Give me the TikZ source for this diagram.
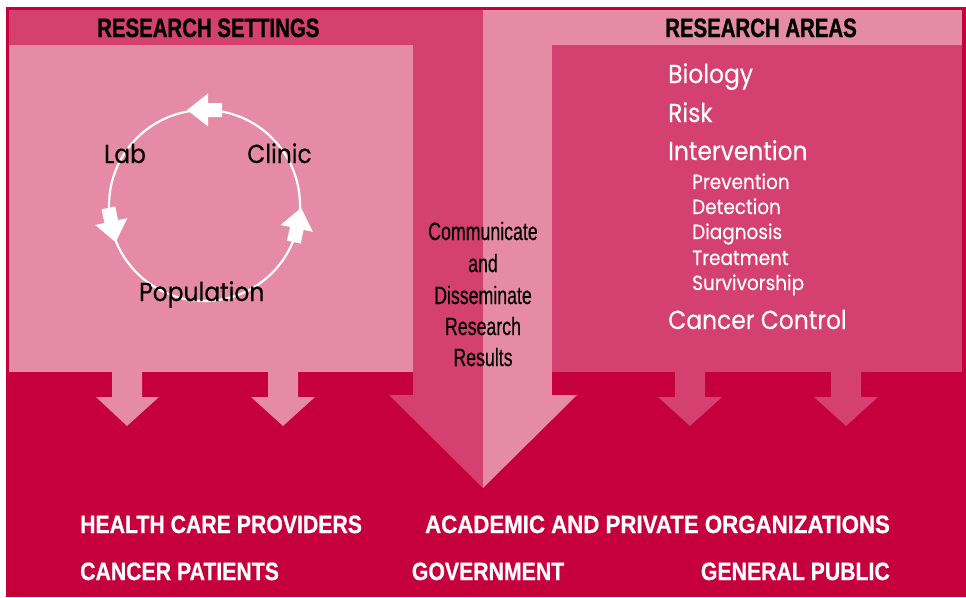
\documentclass[tikz,border=0pt]{standalone}
\usepackage{fontspec}
\setmainfont{Poppins}
\newfontfamily\geo[FakeStretch=0.9,FakeBold=0.4]{Poppins}
\newfontfamily\headfont[FakeStretch=0.77,FakeBold=1]{Liberation Sans Bold}
\newfontfamily\footfont[FakeStretch=0.85,FakeBold=0.8]{Liberation Sans Bold}
\newfontfamily\footwide[FakeStretch=0.89,FakeBold=0.8]{Liberation Sans Bold}
\newfontfamily\midfont[FakeStretch=0.71,FakeBold=0.3]{Liberation Sans}
\definecolor{cred}{HTML}{C6003C}
\definecolor{dpink}{HTML}{D4406F}
\definecolor{lpink}{HTML}{E58BA6}
\tikzset{
  headtxt/.style={inner sep=0pt, anchor=base west, text=black, font=\headfont\fontsize{26.5}{30}\selectfont},
  foottxt/.style={inner sep=0pt, text=white, font=\footfont\fontsize{25}{30}\selectfont},
  midtxt/.style={inner sep=0pt, anchor=base, text=black, font=\midfont\fontsize{25}{30}\selectfont},
  bigitem/.style={inner sep=0pt, anchor=base west, text=white, font=\geo\fontsize{26}{30}\selectfont},
  subitem/.style={inner sep=0pt, anchor=base west, text=white, font=\geo\fontsize{20.5}{24}\selectfont},
  cycitem/.style={inner sep=0pt, anchor=base west, text=black, font=\geo\fontsize{26}{30}\selectfont},
  pics/blockarrow/.style={code={
    \fill[white] (-17.5,-7) -- (-3.5,-7) -- (-3.5,-16.5) -- (17.5,0) -- (-3.5,16.5) -- (-3.5,7) -- (-17.5,7) -- cycle;}}
}
\begin{document}
\begin{tikzpicture}[x=1pt,y=-1pt]
\useasboundingbox (0,0) rectangle (966,597);
% frame / background
\fill[cred] (6,7) rectangle (966,597);
% left header band and left half of the big arrow shaft
\fill[dpink] (9,10) rectangle (483,45);
\fill[dpink] (413,45) rectangle (483,396);
% right header band and right half of big arrow shaft
\fill[lpink] (483,10) rectangle (962,45);
\fill[lpink] (483,45) rectangle (552,396);
% boxes
\fill[lpink] (9,45) rectangle (413,372);
\fill[dpink] (552,45) rectangle (962,372);
% big arrow head
\fill[dpink] (389,395) -- (483,395) -- (483,488) -- cycle;
\fill[lpink] (483,395) -- (577,395) -- (483,488) -- cycle;
% small arrows, left (light pink)
\fill[lpink] (112,371) -- (142,371) -- (142,397) -- (159,397) -- (127,426) -- (96,397) -- (112,397) -- cycle;
\fill[lpink] (268,371) -- (298,371) -- (298,397) -- (315,397) -- (283,426) -- (251,397) -- (268,397) -- cycle;
% small arrows, right (dark pink)
\fill[dpink] (675,371) -- (705,371) -- (705,397) -- (722,397) -- (690,426) -- (658,397) -- (675,397) -- cycle;
\fill[dpink] (831,371) -- (861,371) -- (861,397) -- (878,397) -- (846,426) -- (814,397) -- (831,397) -- cycle;
% cycle
\draw[white, line width=2.2pt] (204.5,205.5) circle[radius=95.5];
\pic[shift={(204.5,110)}, rotate=180] {blockarrow};
\pic[shift={(112,225)}, rotate=-78] {blockarrow};
\pic[shift={(297.5,225)}, rotate=78] {blockarrow};
\node[cycitem] (lab) at (104,163) {Lab};
\node[cycitem] (clinic) at (247,163) {Clinic};
\node[cycitem] (pop) at (139,301) {Population};
% headers
\node[headtxt] (hset) at (97,37) {RESEARCH SETTINGS};
\node[headtxt] (harea) at (665,37) {RESEARCH AREAS};
% research areas
\node[bigitem] (bio) at (668,83) {Biology};
\node[bigitem] (risk) at (668,122) {Risk};
\node[bigitem] (interv) at (668,160) {Intervention};
\node[subitem] (prev) at (692,189) {Prevention};
\node[subitem] (det) at (692,214) {Detection};
\node[subitem] (diag) at (692,239) {Diagnosis};
\node[subitem] (treat) at (692,265) {Treatment};
\node[subitem] (surv) at (692,290) {Survivorship};
\node[bigitem] (cc) at (668,329) {Cancer Control};
% center text
\node[midtxt] (m1) at (483,240) {Communicate};
\node[midtxt] (m2) at (483,272) {and};
\node[midtxt] (m3) at (483,304) {Disseminate};
\node[midtxt] (m4) at (483,335) {Research};
\node[midtxt] (m5) at (483,366) {Results};
% audiences
\node[foottxt, anchor=base west] (hcp) at (80,533) {HEALTH CARE PROVIDERS};
\node[foottxt, anchor=base, font=\footwide\fontsize{25}{30}\selectfont] (acad) at (657.5,533) {ACADEMIC AND PRIVATE ORGANIZATIONS};
\node[foottxt, anchor=base west] (cp) at (80,580) {CANCER PATIENTS};
\node[foottxt, anchor=base] (gov) at (488,580) {GOVERNMENT};
\node[foottxt, anchor=base east] (gp) at (890,580) {GENERAL PUBLIC};
\end{tikzpicture}
\end{document}
